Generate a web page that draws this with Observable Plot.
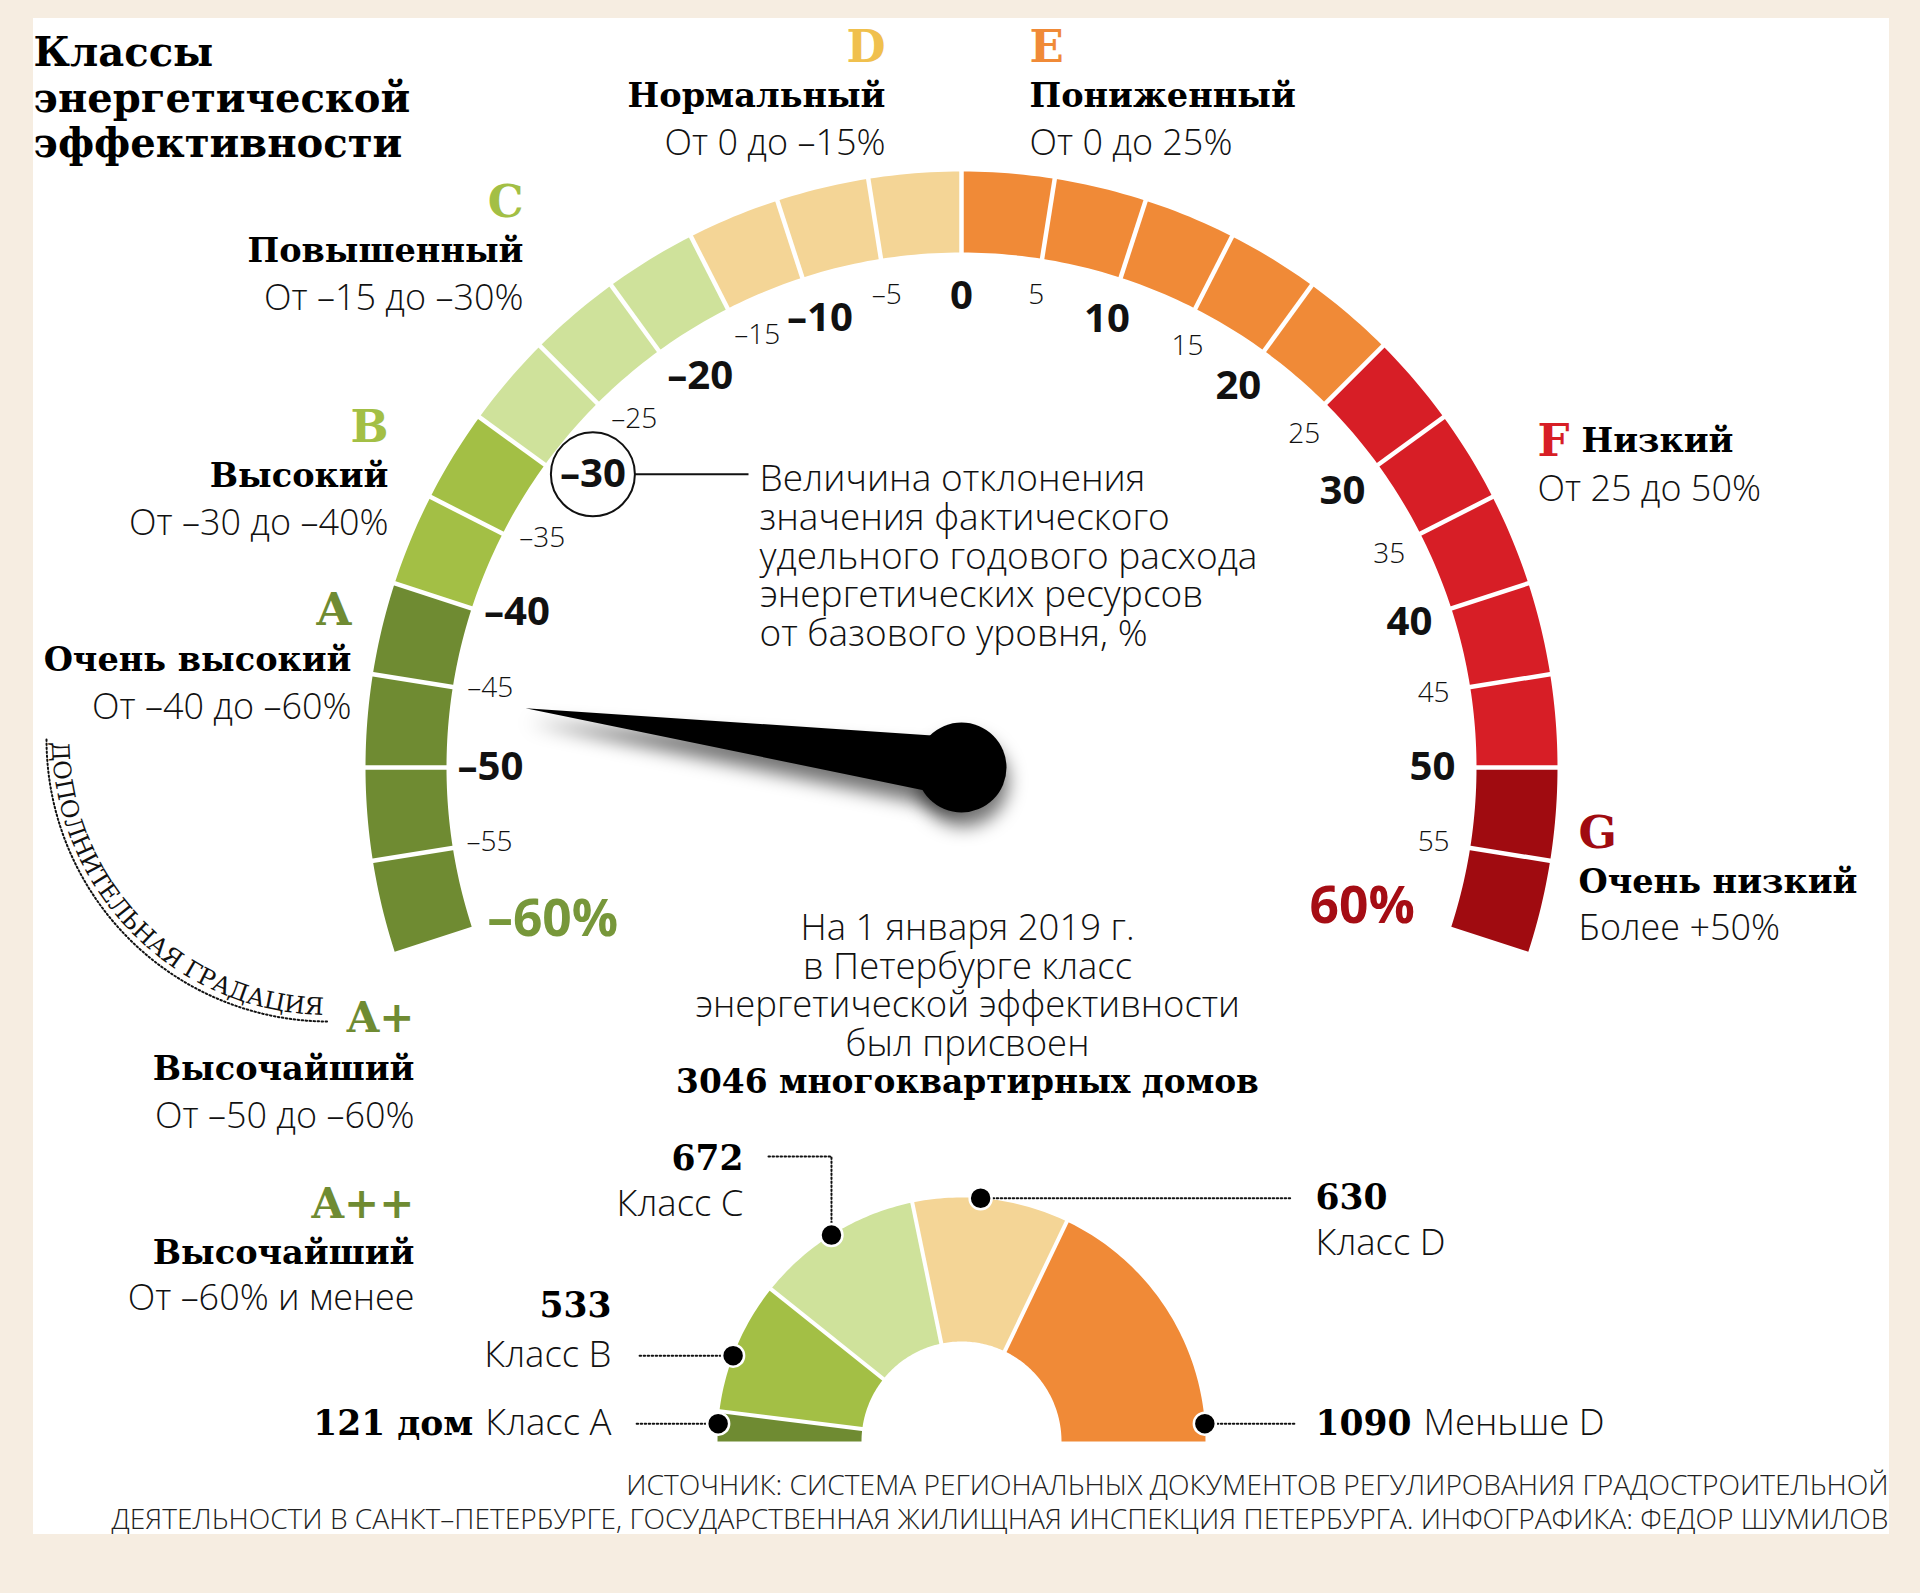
<!DOCTYPE html>
<html lang="ru">
<head>
<meta charset="utf-8">
<title>Классы энергетической эффективности</title>
<script src="https://cdn.jsdelivr.net/npm/d3@7"></script>
<script src="https://cdn.jsdelivr.net/npm/@observablehq/plot@0.6"></script>
<style>
  html, body { margin: 0; padding: 0; background: #f6ede1; }
  #chart svg { display: block; }
</style>
</head>
<body>
<div id="chart"></div>
<script>
// ===================== DATA =====================
const classLetters = ["A", "B", "C", "D", "E", "F", "G"];
const classFrom    = [-60, -40, -30, -15, 0, 25, 50];
const classTo      = [-40, -30, -15, 0, 25, 50, 60];
const classNames   = ["Очень высокий", "Высокий", "Повышенный", "Нормальный", "Пониженный", "Низкий", "Очень низкий"];
const classRanges  = ["От –40 до –60%", "От –30 до –40%", "От –15 до –30%", "От 0 до –15%", "От 0 до 25%", "От 25 до 50%", "Более +50%"];
const extraLetters = ["A+", "A++"];
const extraNames   = ["Высочайший", "Высочайший"];
const extraRanges  = ["От –50 до –60%", "От –60% и менее"];
const scaleMin = -60, scaleMax = 60;
const tickValues = [-55, -50, -45, -40, -35, -30, -25, -20, -15, -10, -5, 0, 5, 10, 15, 20, 25, 30, 35, 40, 45, 50, 55];
const endLabels = ["–60%", "60%"];
const needleValue = -45.7;
const donutCategories = ["Класс A", "Класс B", "Класс C", "Класс D", "Меньше D"];
const donutCounts = [121, 533, 672, 630, 1090];
const titleLines = ["Классы", "энергетической", "эффективности"];
const annotationLines = ["Величина отклонения", "значения фактического", "удельного годового расхода", "энергетических ресурсов", "от базового уровня, %"];
const summaryLines = ["На 1 января 2019 г.", "в Петербурге класс", "энергетической эффективности", "был присвоен"];
const summaryBold = "3046 многоквартирных домов";
const curvedLabel = "ДОПОЛНИТЕЛЬНАЯ ГРАДАЦИЯ";
const sourceLines = [
  "ИСТОЧНИК: СИСТЕМА РЕГИОНАЛЬНЫХ ДОКУМЕНТОВ РЕГУЛИРОВАНИЯ ГРАДОСТРОИТЕЛЬНОЙ",
  "ДЕЯТЕЛЬНОСТИ В САНКТ–ПЕТЕРБУРГЕ, ГОСУДАРСТВЕННАЯ ЖИЛИЩНАЯ ИНСПЕКЦИЯ ПЕТЕРБУРГА. ИНФОГРАФИКА: ФЕДОР ШУМИЛОВ"
];

// ===================== STYLE =====================
const BG = "#f6ede1";
const classColors  = ["#6f8b32", "#a3bf45", "#cfe29b", "#f4d596", "#f08a37", "#d71e26", "#a00b10"];
const letterColors = ["#6f8b32", "#a3bf45", "#a3bf45", "#f0c04d", "#f08a37", "#d71e26", "#a00b10"];
const extraColor = "#6f8b32";
const endColors = ["#77973a", "#a50d14"];
const donutColors = ["#6f8b32", "#a3bf45", "#cfe29b", "#f4d596", "#f08a37"];
const SERIF = "'DejaVu Serif', serif";
const SANS = "'Open Sans', 'DejaVu Sans', sans-serif";

const ctx = document.createElement("canvas").getContext("2d");
function measure(text, family, weight, size) { ctx.font = `${weight} ${size}px ${family}`; return ctx.measureText(text).width; }
function fit(text, family, weight, target) { return 100 * target / measure(text, family, weight, 100); }

const fs = {
  title: fit(titleLines[1], SERIF, 700, 377),
  letter: 45,
  extraLetter: 42,
  name: fit("Нормальный", SERIF, 700, 258),
  range: fit("От 0 до 25%", SANS, 300, 203),
  note: fit(annotationLines[0], SANS, 300, 386),
  tickMajor: fit("–10", SANS, 700, 66),
  tickMinor: fit("–15", SANS, 300, 46),
  end: fit("–60%", SANS, 700, 131),
  summary: fit(summaryLines[2], SANS, 300, 545),
  summaryBold: fit(summaryBold, SERIF, 700, 583),
  donutNum: fit("672", SERIF, 700, 72),
  donutCat: fit("Класс C", SANS, 300, 127),
  source: fit(sourceLines[1], SANS, 300, 1778),
  curved: 24
};

// ===================== LAYOUT =====================
const W = 1920, H = 1593;
const panel = [{x1: 33, x2: 1889, y1: 18, y2: 1534}];
const G = {cx: 961, cy: 767, rIn: 515, rOut: 596, degPerUnit: 1.8, rMajor: 471, rMinor: 478};
const rad = v => v * G.degPerUnit * Math.PI / 180;
const gx = (v, r) => G.cx + r * Math.sin(rad(v));
const gy = (v, r) => G.cy - r * Math.cos(rad(v));
const labelNudgeDeg = {"-10": 0.5, "-20": 2.3, "-30": 2.5, "-40": 1.3, "-15": 1.7, "-25": 1.8, "-35": 1.7, "-45": 0.6, "15": 1.2, "25": 0.8, "35": 0.5};

const classLayout = [
  {anchor: "end",   x: 351,  y: [610, 660, 707]},
  {anchor: "end",   x: 388,  y: [427, 476, 523]},
  {anchor: "end",   x: 523,  y: [202, 251, 298]},
  {anchor: "end",   x: 885,  y: [47, 96, 143]},
  {anchor: "start", x: 1029, y: [47, 96, 143]},
  {anchor: "start", x: 1537, y: [441, 441, 489], inline: true},
  {anchor: "start", x: 1578, y: [833, 882, 928]}
];
const extraLayout = [
  {anchor: "end", x: 414, y: [1018, 1069, 1116]},
  {anchor: "end", x: 414, y: [1204, 1253, 1298]}
];
const titleLayout = {x: 33, y0: 53, step: 45.5};
const noteLayout = {x: 759, y0: 479, step: 38.6, lineEnd: 748, circleR: 42};
const summaryLayout = {x: 967, y0: 928, step: 38.5};
const sourceLayout = {x: 1888, y: [1485, 1519]};
const endLayout = [{v: -61.3, r: 436}, {v: 60.6, r: 424}];
const needleLayout = {len: 440, half: 30, hubR: 45, shadowDx: 2, shadowDy: 14, blur: 9};
const arcLabel = {cx: 328, cy: 739, r: 282, textInset: 6};
const D = {cx: 961, cy: 1441, rIn: 100, rOut: 244};
const calloutLayout = [
  {deg: 175.8, leader: [[634, null]], inline: "end", x: 611},
  {deg: 159.4, leader: [[637, null]], anchor: "end", numX: 611, numY: 1305, catX: 611, catY: null},
  {deg: 122.2, leader: [[null, 1156], [768, 1156]], anchor: "end", numX: 743, numY: 1158, catX: 743, catY: 1204},
  {deg: 85.5, leader: [[1291, null]], anchor: "start", numX: 1315, numY: null, catX: 1315, catY: 1243},
  {deg: 4.2, leader: [[1294, null]], inline: "start", x: 1315}
];

// ===================== DERIVED GEOMETRY =====================
const bounds = [scaleMin, ...tickValues, scaleMax];
const cellPts = [];
for (let i = 0; i < bounds.length - 1; i++) {
  const a = bounds[i], b = bounds[i + 1];
  const k = classFrom.findIndex((f, j) => a >= f && a < classTo[j]);
  const n = 12;
  for (let s = 0; s <= n; s++) { const v = a + (b - a) * s / n; cellPts.push({id: i, x: gx(v, G.rOut), y: gy(v, G.rOut), c: classColors[k]}); }
  for (let s = n; s >= 0; s--) { const v = a + (b - a) * s / n; cellPts.push({id: i, x: gx(v, G.rIn), y: gy(v, G.rIn), c: classColors[k]}); }
}
const gaugeSeps = tickValues.map(v => ({x1: gx(v, G.rIn - 3), y1: gy(v, G.rIn - 3), x2: gx(v, G.rOut + 3), y2: gy(v, G.rOut + 3)}));
const tickLabels = tickValues.map(v => {
  const major = v % 10 === 0;
  const a = v + (labelNudgeDeg[String(v)] || 0) / G.degPerUnit;
  const r = major ? G.rMajor : G.rMinor;
  return {v, major, x: gx(a, r), y: gy(a, r), label: v < 0 ? "–" + Math.abs(v) : String(v)};
});
const t30 = tickLabels.find(d => d.v === -30);
const endPts = endLabels.map((t, i) => ({t, x: gx(endLayout[i].v, endLayout[i].r), y: gy(endLayout[i].v, endLayout[i].r), c: endColors[i]}));

const na = rad(needleValue);
function needlePoly(dx, dy) {
  return [
    {x: G.cx + needleLayout.len * Math.sin(na) + dx, y: G.cy - needleLayout.len * Math.cos(na) + dy},
    {x: G.cx + needleLayout.half * Math.cos(na) + dx, y: G.cy + needleLayout.half * Math.sin(na) + dy},
    {x: G.cx - needleLayout.half * Math.cos(na) + dx, y: G.cy - needleLayout.half * Math.sin(na) + dy}
  ];
}

const letterTexts = [], extraLetterTexts = [], nameTexts = [], rangeTexts = [];
classLetters.forEach((L, k) => {
  const lay = classLayout[k];
  letterTexts.push({t: L, x: lay.x, y: lay.y[0], c: letterColors[k], a: lay.anchor});
  const nameX = lay.inline ? lay.x + measure(L, SERIF, 700, fs.letter) + 12 : lay.x;
  nameTexts.push({t: classNames[k], x: nameX, y: lay.y[1], a: lay.anchor});
  rangeTexts.push({t: classRanges[k], x: lay.x, y: lay.y[2], a: lay.anchor});
});
extraLetters.forEach((L, k) => {
  const lay = extraLayout[k];
  extraLetterTexts.push({t: L, x: lay.x, y: lay.y[0], c: extraColor, a: lay.anchor});
  nameTexts.push({t: extraNames[k], x: lay.x, y: lay.y[1], a: lay.anchor});
  rangeTexts.push({t: extraRanges[k], x: lay.x, y: lay.y[2], a: lay.anchor});
});

const total = d3.sum(donutCounts);
const donutPts = [], donutSeps = [];
let cum = 0;
donutCounts.forEach((c, k) => {
  const t0 = Math.PI * (1 - cum / total), t1 = Math.PI * (1 - (cum + c) / total);
  const n = Math.max(4, Math.ceil(Math.abs(t1 - t0) * 60));
  for (let s = 0; s <= n; s++) { const t = t0 + (t1 - t0) * s / n; donutPts.push({id: k, x: D.cx + D.rOut * Math.cos(t), y: D.cy - D.rOut * Math.sin(t), c: donutColors[k]}); }
  for (let s = n; s >= 0; s--) { const t = t0 + (t1 - t0) * s / n; donutPts.push({id: k, x: D.cx + D.rIn * Math.cos(t), y: D.cy - D.rIn * Math.sin(t), c: donutColors[k]}); }
  cum += c;
  if (k < donutCounts.length - 1) donutSeps.push({x1: D.cx + (D.rIn - 2) * Math.cos(t1), y1: D.cy - (D.rIn - 2) * Math.sin(t1), x2: D.cx + (D.rOut + 2) * Math.cos(t1), y2: D.cy - (D.rOut + 2) * Math.sin(t1)});
});
const dots = [], leaderPts = [], numTexts = [], catTexts = [];
calloutLayout.forEach((L, k) => {
  const t = L.deg * Math.PI / 180;
  const dx = D.cx + D.rOut * Math.cos(t), dy = D.cy - D.rOut * Math.sin(t);
  dots.push({x: dx, y: dy});
  let px = dx, py = dy;
  leaderPts.push({id: k, x: px, y: py});
  L.leader.forEach(([lx, ly]) => { px = lx == null ? px : lx; py = ly == null ? py : ly; leaderPts.push({id: k, x: px, y: py}); });
  const num = k === 0 ? donutCounts[k] + " дом" : String(donutCounts[k]);
  const cat = donutCategories[k];
  if (L.inline === "end") {
    catTexts.push({t: cat, x: L.x, y: dy, a: "end"});
    numTexts.push({t: num, x: L.x - measure(cat, SANS, 300, fs.donutCat) - 12, y: dy, a: "end"});
  } else if (L.inline === "start") {
    numTexts.push({t: num, x: L.x, y: dy, a: "start"});
    catTexts.push({t: cat, x: L.x + measure(num, SERIF, 700, fs.donutNum) + 12, y: dy, a: "start"});
  } else {
    numTexts.push({t: num, x: L.numX, y: L.numY == null ? dy : L.numY, a: L.anchor});
    catTexts.push({t: cat, x: L.catX, y: L.catY == null ? dy : L.catY, a: L.anchor});
  }
});

const arcPts = [];
for (let s = 0; s <= 60; s++) { const t = Math.PI - (Math.PI / 2) * s / 60; arcPts.push({x: arcLabel.cx + arcLabel.r * Math.cos(t), y: arcLabel.cy + arcLabel.r * Math.sin(t)}); }

function curvedTextMark() {
  const rt = arcLabel.r - arcLabel.textInset;
  const g = d3.create("svg:g");
  const defs = g.append("defs");
  defs.append("filter").attr("id", "needleBlur").attr("x", "-50%").attr("y", "-50%").attr("width", "200%").attr("height", "200%")
    .append("feGaussianBlur").attr("stdDeviation", needleLayout.blur);
  defs.append("path").attr("id", "gradArcPath")
    .attr("d", `M${arcLabel.cx - rt},${arcLabel.cy} A${rt},${rt} 0 0 0 ${arcLabel.cx},${arcLabel.cy + rt}`);
  g.append("text")
    .attr("font-family", SERIF).attr("font-size", fs.curved).attr("fill", "#111").attr("text-anchor", "start")
    .append("textPath").attr("href", "#gradArcPath").attr("startOffset", 3)
    .attr("textLength", Math.PI / 2 * rt - 8).attr("lengthAdjust", "spacing")
    .text(curvedLabel);
  return g.node();
}

// ===================== PLOT =====================
const txt = (data, o) => Plot.text(data, Object.assign({x: "x", y: "y", text: "t", lineAnchor: "middle"}, o));
const byAnchor = (data, o) => ["start", "end"].map(a => txt(data.filter(d => d.a === a), Object.assign({textAnchor: a}, o)));

const chart = Plot.plot({
  width: W, height: H, margin: 0,
  x: {type: "identity", axis: null},
  y: {type: "identity", axis: null},
  color: {type: "identity"},
  style: {background: BG, overflow: "visible"},
  marks: [
    Plot.rect(panel, {x1: "x1", x2: "x2", y1: "y1", y2: "y2", fill: "white"}),
    curvedTextMark,
    // gauge
    Plot.line(cellPts, {x: "x", y: "y", z: "id", fill: "c", stroke: "none", curve: "linear"}),
    Plot.link(gaugeSeps, {x1: "x1", y1: "y1", x2: "x2", y2: "y2", stroke: "white", strokeWidth: 4.5}),
    // -30 callout
    Plot.link([t30], {x1: d => d.x + noteLayout.circleR, y1: "y", x2: noteLayout.lineEnd, y2: "y", stroke: "#111", strokeWidth: 2}),
    Plot.dot([t30], {x: "x", y: "y", r: noteLayout.circleR, fill: "white", stroke: "#111", strokeWidth: 2}),
    // tick labels
    Plot.text(tickLabels.filter(d => d.major), {x: "x", y: "y", text: "label", fontFamily: SANS, fontWeight: 700, fontSize: fs.tickMajor, fill: "#111"}),
    Plot.text(tickLabels.filter(d => !d.major), {x: "x", y: "y", text: "label", fontFamily: SANS, fontWeight: 300, fontSize: fs.tickMinor, fill: "#111"}),
    txt(endPts, {fill: "c", fontFamily: SANS, fontWeight: 700, fontSize: fs.end}),
    // needle shadow + needle
    Plot.line(needlePoly(needleLayout.shadowDx, needleLayout.shadowDy), {x: "x", y: "y", fill: "#000", fillOpacity: 0.55, stroke: "none", ariaDescription: "needle-shadow"}),
    Plot.dot([{x: G.cx + needleLayout.shadowDx, y: G.cy + needleLayout.shadowDy}], {x: "x", y: "y", r: needleLayout.hubR, fill: "#000", fillOpacity: 0.55, ariaDescription: "needle-shadow"}),
    Plot.line(needlePoly(0, 0), {x: "x", y: "y", fill: "#000", stroke: "none"}),
    Plot.dot([{x: G.cx, y: G.cy}], {x: "x", y: "y", r: needleLayout.hubR, fill: "#000"}),
    // title
    txt(titleLines.map((t, i) => ({t, x: titleLayout.x, y: titleLayout.y0 + i * titleLayout.step})), {textAnchor: "start", fontFamily: SERIF, fontWeight: 700, fontSize: fs.title, fill: "#000"}),
    // class labels
    ...byAnchor(letterTexts, {fill: "c", fontFamily: SERIF, fontWeight: 700, fontSize: fs.letter}),
    ...byAnchor(extraLetterTexts, {fill: "c", fontFamily: SERIF, fontWeight: 700, fontSize: fs.extraLetter}),
    ...byAnchor(nameTexts, {fill: "#000", fontFamily: SERIF, fontWeight: 700, fontSize: fs.name}),
    ...byAnchor(rangeTexts, {fill: "#111", fontFamily: SANS, fontWeight: 300, fontSize: fs.range}),
    // annotation
    txt(annotationLines.map((t, i) => ({t, x: noteLayout.x, y: noteLayout.y0 + i * noteLayout.step})), {textAnchor: "start", fill: "#111", fontFamily: SANS, fontWeight: 300, fontSize: fs.note}),
    // additional gradation dotted arc
    Plot.line(arcPts, {x: "x", y: "y", stroke: "#111", strokeWidth: 2, strokeDasharray: "1.5,2.5"}),
    // summary
    txt(summaryLines.map((t, i) => ({t, x: summaryLayout.x, y: summaryLayout.y0 + i * summaryLayout.step})), {fill: "#111", fontFamily: SANS, fontWeight: 300, fontSize: fs.summary}),
    txt([{t: summaryBold, x: summaryLayout.x, y: summaryLayout.y0 + summaryLines.length * summaryLayout.step}], {fill: "#000", fontFamily: SERIF, fontWeight: 700, fontSize: fs.summaryBold}),
    // donut
    Plot.line(donutPts, {x: "x", y: "y", z: "id", fill: "c", stroke: "none"}),
    Plot.link(donutSeps, {x1: "x1", y1: "y1", x2: "x2", y2: "y2", stroke: "white", strokeWidth: 4}),
    Plot.line(leaderPts, {x: "x", y: "y", z: "id", stroke: "#111", strokeWidth: 2, strokeDasharray: "1.5,2.5", curve: "linear"}),
    Plot.dot(dots, {x: "x", y: "y", r: 11, fill: "#000", stroke: "white", strokeWidth: 2.5}),
    ...byAnchor(numTexts, {fill: "#000", fontFamily: SERIF, fontWeight: 700, fontSize: fs.donutNum}),
    ...byAnchor(catTexts, {fill: "#111", fontFamily: SANS, fontWeight: 300, fontSize: fs.donutCat}),
    // source
    txt(sourceLines.map((t, i) => ({t, x: sourceLayout.x, y: sourceLayout.y[i]})), {textAnchor: "end", fill: "#222", fontFamily: SANS, fontWeight: 300, fontSize: fs.source})
  ]
});

chart.querySelectorAll('[aria-description="needle-shadow"]').forEach(g => g.setAttribute("filter", "url(#needleBlur)"));
document.getElementById("chart").appendChild(chart);
</script>
</body>
</html>
